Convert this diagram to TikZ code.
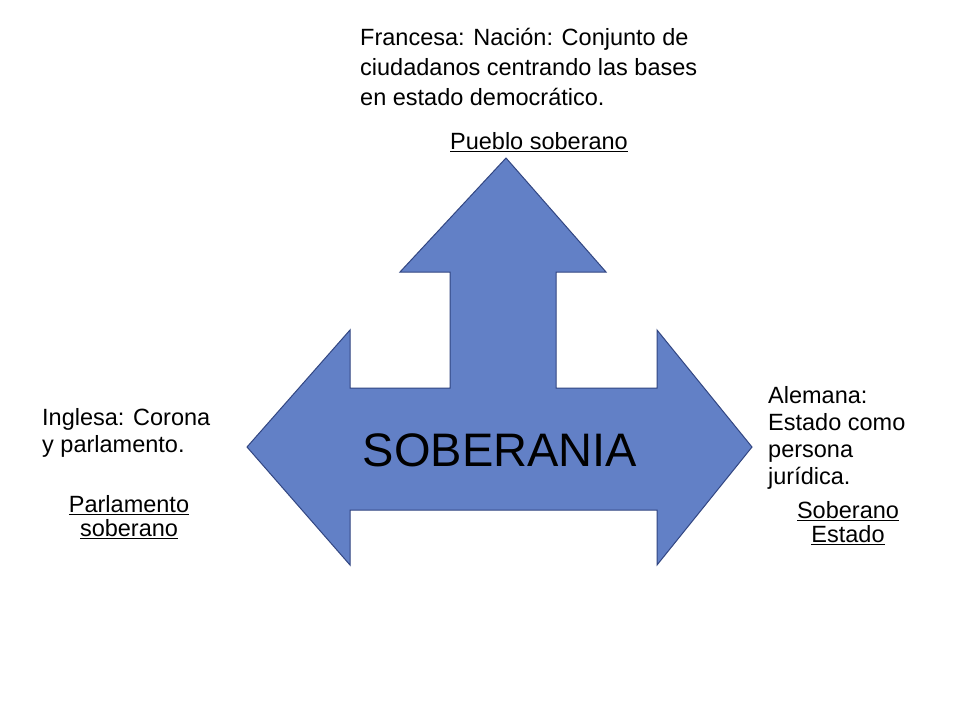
\documentclass[tikz,border=0pt]{standalone}
\usepackage{fontspec}
\setmainfont{Liberation Sans}
\begin{document}
\begin{tikzpicture}[x=1pt,y=-1pt,
  txt/.style={align=left,font=\fontsize{23.5}{30}\selectfont,inner sep=0pt},
  lab/.style={align=center,font=\fontsize{23.5}{24}\selectfont,inner sep=0pt}]
\useasboundingbox (0,0) rectangle (960,720);
\fill[white] (0,0) rectangle (960,720);
\draw[fill={rgb,255:red,98;green,128;blue,198},draw={rgb,255:red,50;green,70;blue,130},line width=1pt]
 (506,158) -- (606,272) -- (556,272) -- (556,388) -- (657,388) -- (657,330) -- (752,447)
 -- (657,565) -- (657,510) -- (350,510) -- (350,565) -- (247,447) -- (350,330)
 -- (350,388) -- (450,388) -- (450,272) -- (400,272) -- cycle;
\node[inner sep=0pt,font=\fontsize{47}{56}\selectfont] (s) at (500,450) {SOBERANIA};
\node[txt,anchor=north west] (f) at (360,28) {Francesa: Nación: Conjunto de\\ciudadanos centrando las bases\\en estado democrático.};
\node[lab] (p) at (539,142) {\underline{Pueblo soberano}};
\node[txt,anchor=north west,font=\fontsize{23.5}{27}\selectfont] (i) at (42,408) {Inglesa: Corona\\y parlamento.};
\node[lab] (ps) at (129,517) {\underline{Parlamento}\\\underline{soberano}};
\node[txt,anchor=north west,font=\fontsize{23.5}{27}\selectfont] (a) at (768,386) {Alemana:\\Estado como\\persona\\jurídica.};
\node[lab] (se) at (848,523) {\underline{Soberano}\\\underline{Estado}};
\end{tikzpicture}
\end{document}
